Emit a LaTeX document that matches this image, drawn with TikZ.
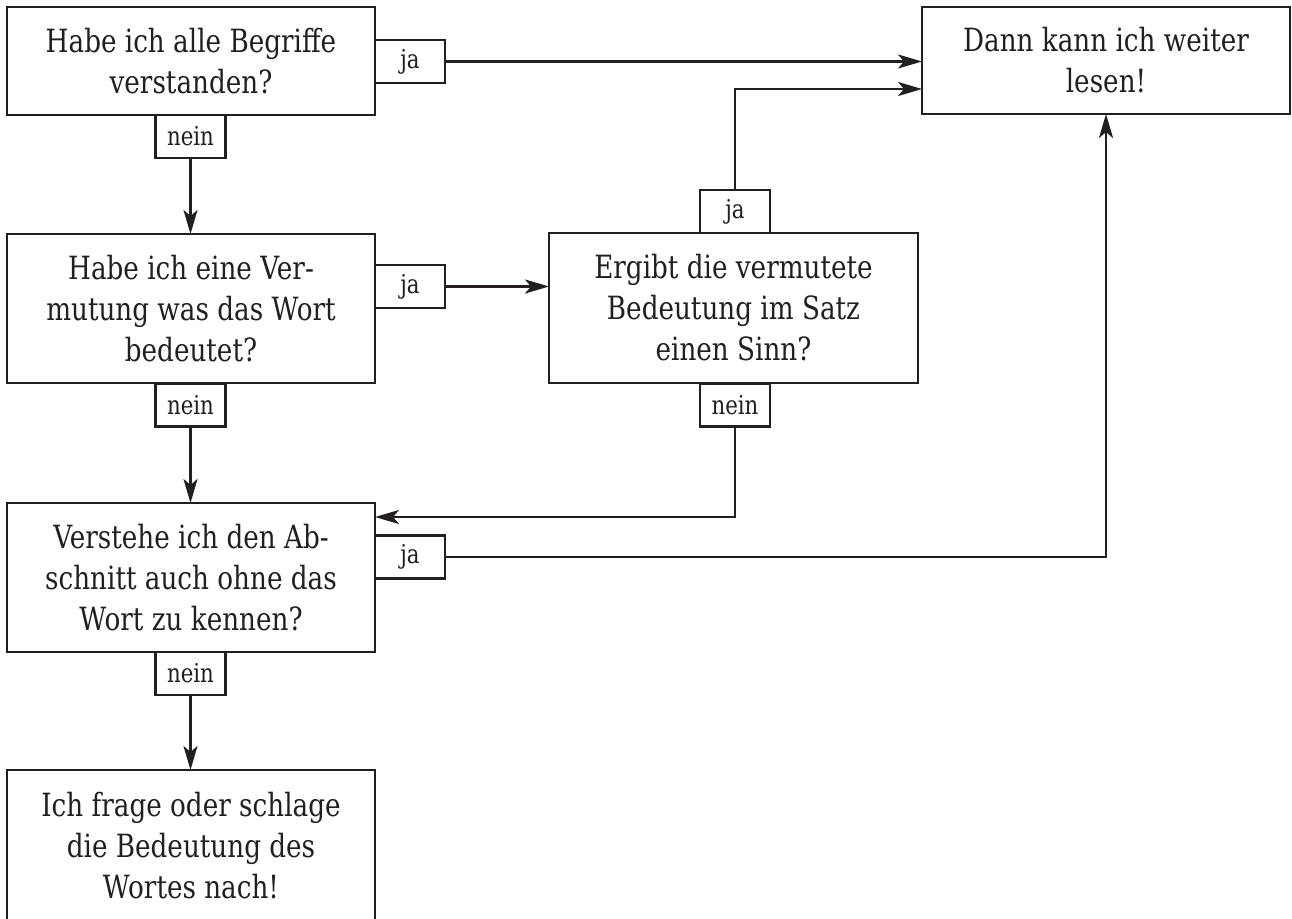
\documentclass[tikz,border=0pt]{standalone}
\usepackage{fontspec}
\setmainfont{DejaVu Serif}[FakeStretch=0.82]
\usetikzlibrary{arrows.meta}
\definecolor{ink}{HTML}{231F20}
\begin{document}
\begin{tikzpicture}[x=1pt,y=-1pt,
  box/.style={draw=ink, text=ink, line width=2.5pt, minimum width=368pt, align=center, inner sep=0pt, outer sep=0pt, font=\fontsize{32}{41}\selectfont},
  tab/.style={draw=ink, text=ink, fill=white, line width=2.5pt, minimum width=70pt, minimum height=43pt, inner sep=0pt, outer sep=0pt, font=\fontsize{26}{30}\selectfont},
  arr/.style={draw=ink, line width=2.5pt, -{Stealth[length=24pt,width=14pt,inset=6pt]}}]
\useasboundingbox (0,0) rectangle (1292,918);
\node[box, minimum height=108pt] (A) at (191,61) {Habe ich alle Begriffe\\verstanden?};
\node[box, minimum height=107pt] (D) at (1106,60.5) {Dann kann ich weiter\\lesen!};
\node[box, minimum height=149pt] (B) at (191,308.5) {Habe ich eine Ver-\\mutung was das Wort\\bedeutet?};
\node[box, minimum width=369pt, minimum height=150pt] (C) at (733.5,308) {Ergibt die vermutete\\Bedeutung im Satz\\einen Sinn?};
\node[box, minimum height=149pt] (E) at (191,577.5) {Verstehe ich den Ab-\\schnitt auch ohne das\\Wort zu kennen?};
\node[box, minimum height=151pt] (F) at (191,845.5) {Ich frage oder schlage\\die Bedeutung des\\Wortes nach!};
\node[tab] (Aja) at (410,61.5) {ja};
\node[tab] (Anein) at (190.5,136.5) {nein};
\node[tab] (Bja) at (410,286.5) {ja};
\node[tab] (Bnein) at (190.5,405) {nein};
\node[tab] (Cja) at (735,211.5) {ja};
\node[tab] (Cnein) at (735,405) {nein};
\node[tab] (Eja) at (410,557) {ja};
\node[tab] (Enein) at (190.5,673.5) {nein};
\coordinate (d2) at (922,89);
\coordinate (e2) at (375,517);
\draw[arr] (Aja.east) -- (Aja.east -| D.west);
\draw[arr] (Cja.north) |- (d2);
\draw[arr] (Bja.east) -- (Bja.east -| C.west);
\draw[arr] (Cnein.south) |- (e2);
\draw[arr] (Eja.east) -| (D.south);
\draw[arr] (Anein.south) -- (Anein.south |- B.north);
\draw[arr] (Bnein.south) -- (Bnein.south |- E.north);
\draw[arr] (Enein.south) -- (Enein.south |- F.north);
\end{tikzpicture}
\end{document}
